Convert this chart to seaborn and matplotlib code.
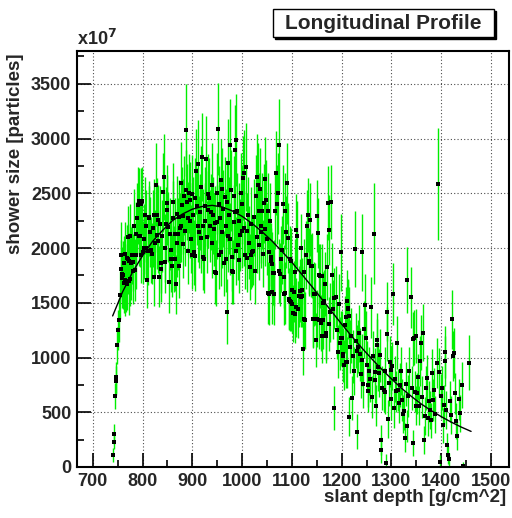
import numpy as np
import pandas as pd
import matplotlib
matplotlib.use("Agg")
import matplotlib.pyplot as plt
import seaborn as sns
from matplotlib.patches import FancyBboxPatch
from matplotlib.ticker import MultipleLocator

# slant depth [g/cm^2], shower size [x1e7 particles], error
depth = [
    741, 742, 743, 745, 746, 747, 749, 751, 752, 754,
    756, 757, 758, 759, 761, 762, 763, 764, 765, 766, 768, 769, 770, 771, 772, 773, 774, 775, 777, 778,
    780, 781, 783, 784, 786, 787, 789, 790, 792, 793, 795, 796, 797, 798, 800,
    802, 803, 805, 806, 808, 810, 811, 813, 814, 816, 818, 820, 821, 823, 824, 826, 827, 829, 830, 831,
    832, 834, 835, 837, 838, 840, 842, 843, 845, 846, 847, 849,
    850, 852, 853, 855, 857, 858, 859, 861, 862, 864, 865, 866, 867, 869, 870, 872, 873, 874, 876, 877,
    878, 879, 881, 882, 883, 885, 887, 888, 889, 891, 892, 893, 895, 896, 897, 899,
    900, 901, 903, 905, 906, 908, 909, 911, 912, 913, 915, 917, 918, 920, 921, 922, 924, 925, 926, 928,
    929, 931, 932, 934, 935, 937, 939, 940, 942, 943, 945, 946, 947, 949, 950,
    951, 953, 954, 955, 957, 958, 959, 960, 962, 963, 965, 967, 968, 969, 970, 971, 972, 974, 975, 976,
    977, 979, 980, 981, 983, 984, 985, 986, 987, 988, 989, 991, 993, 994, 996, 998, 999,
    1000, 1002, 1003, 1004, 1005, 1007, 1009, 1010, 1012, 1013, 1015, 1017, 1018, 1020, 1022, 1023, 1025,
    1027, 1029, 1030, 1032, 1033, 1034, 1036, 1038, 1039, 1041, 1043, 1044, 1046, 1047, 1048, 1050,
    1052, 1053, 1054, 1055, 1057, 1058, 1059, 1060, 1061, 1062, 1064, 1065, 1067, 1068, 1070, 1072, 1074,
    1075, 1077, 1079, 1081, 1083, 1084, 1085, 1086, 1087, 1089, 1090, 1092, 1094, 1095, 1096, 1097, 1098, 1099,
    1100, 1101, 1102, 1104, 1106, 1107, 1108, 1109, 1111, 1113, 1115, 1116, 1118, 1119, 1120, 1121, 1123,
    1124, 1125, 1126, 1128, 1130, 1133, 1134, 1135, 1136, 1138, 1140, 1142, 1143, 1144, 1147, 1148, 1150, 1151,
    1153, 1154, 1155, 1156, 1158, 1160, 1161, 1162, 1163, 1165, 1166, 1168, 1169, 1170, 1172, 1174, 1175,
    1176, 1179, 1181, 1182, 1184, 1185, 1188, 1190, 1193, 1195, 1196, 1198, 1199, 1201, 1202, 1203, 1204,
    1206, 1208, 1209, 1210, 1211, 1212, 1213, 1214, 1215, 1217, 1219, 1221, 1223, 1225, 1227, 1229, 1230,
    1231, 1233, 1235, 1236, 1238, 1240, 1241, 1243, 1245, 1247, 1248,
    1250, 1252, 1253, 1255, 1257, 1259, 1261, 1262, 1264, 1266, 1267, 1269, 1271, 1272, 1274, 1276, 1277,
    1279, 1280, 1282, 1285, 1287, 1288, 1290, 1291, 1292, 1293, 1295, 1297, 1299,
    1300, 1302, 1304, 1306, 1307, 1309, 1311, 1313, 1315, 1317, 1319, 1321, 1324, 1326, 1328, 1330, 1331,
    1332, 1334, 1336, 1339, 1341, 1343, 1344, 1346, 1347, 1349, 1350,
    1351, 1353, 1355, 1357, 1360, 1362, 1363, 1366, 1367, 1369, 1371, 1373, 1375, 1377, 1380, 1382, 1384,
    1386, 1388, 1391, 1393, 1396, 1397, 1399,
    1402, 1404, 1406, 1407, 1408, 1410, 1412, 1414, 1416, 1418, 1420, 1421, 1424, 1426, 1428, 1430, 1432,
    1435, 1438, 1441, 1444, 1456,
]
size = [
    110, 230, 300, 650, 790, 820, 1110, 1250, 1340, 1570,
    1810, 1940, 1760, 1730, 1750, 1860, 1680, 1710, 1950, 1680, 1910, 1670, 1900, 2100, 1880, 1700, 2110, 1720, 1860, 1940,
    1790, 1870, 2200, 1800, 1940, 2130, 2270, 2390, 2110, 2430, 2110, 2400, 1940, 2430, 1960,
    2080, 2000, 2300, 2000, 2200, 1710, 1970, 2270, 2280, 2150, 1980, 1950, 2180, 1740, 2300, 2050, 2580, 2120, 2300, 2060,
    2260, 1740, 2220, 1810, 1860, 2110, 2510, 2650, 2000, 1870, 2220, 2350,
    2410, 2190, 1690, 2130, 1900, 1980, 1840, 2420, 2270, 1900, 2130, 1900, 1670, 2310, 2050, 2130, 1840, 2280, 2180, 2200,
    2590, 2390, 2040, 2290, 2480, 2160, 2530, 3075, 2420, 2270, 1970, 2500, 2250, 2440, 2080, 2490,
    1940, 2300, 1960, 1930, 2460, 2700, 2380, 2200, 2770, 2150, 2330, 2560, 2090, 2830, 1920, 2200, 1900, 2250, 2380, 2810,
    2100, 2350, 2490, 2460, 2200, 2330, 2050, 2580, 2300, 2170, 2230, 1780, 1770, 2500, 2240,
    3090, 2400, 1940, 2270, 1960, 2620, 2150, 2540, 2360, 1860, 2470, 1900, 2200, 2420, 1420, 2110, 2780, 2300, 2940, 2080,
    2530, 1790, 1920, 1780, 2480, 2240, 2900, 2330, 2990, 1970, 2340, 2030, 1890, 2250, 2120, 2500, 2160,
    2400, 2640, 2690, 2180, 1940, 2740, 1910, 2160, 2300, 2050, 1830, 2220, 1940, 1960, 1970, 2280, 1790,
    2480, 2650, 2100, 2580, 2340, 2030, 2540, 2200, 2145, 2340, 1950, 2410, 2630, 2175, 2440, 2080,
    1590, 2340, 1580, 1960, 2250, 1880, 1920, 1600, 1850, 1770, 1770, 1580, 2340, 2685, 2400, 2500, 2943,
    1790, 1760, 1900, 1980, 2400, 1740, 1580, 1590, 2340, 2150, 2590, 2090, 1535, 1530, 1900, 1520, 1510, 1880,
    1620, 1490, 1405, 1600, 1785, 1395, 1460, 2165, 2110, 1440, 1560, 1610, 1555, 2000, 1620, 1560, 1080,
    1785, 1350, 1340, 1940, 2200, 2300, 1880, 1860, 2260, 1840, 1840, 1350, 1355, 1580, 1580, 1160, 2290, 1355,
    2140, 1750, 1340, 1746, 1315, 1745, 1200, 1500, 1340, 1520, 1670, 1200, 1228, 1830, 2410, 2165, 1305,
    1415, 2420, 1755, 1440, 542, 1540, 1555, 1250, 1054, 1490, 1130, 1960, 1175, 1176, 1015, 1030, 932,
    1300, 1374, 955, 1520, 955, 1450, 1440, 1380, 460, 1100, 1200, 628, 1010, 880, 1990, 1155, 1060,
    323, 1100, 1222, 1030, 850, 1960, 978, 760, 1258, 1481, 1175,
    932, 750, 690, 880, 800, 1460, 640, 1010, 2130, 793, 871, 560, 1115, 1161, 911, 860, 1020,
    155, 246, 720, 703, 688, 880, 39, 1216, 1420, 439, 770, 962, 885,
    620, 920, 1581, 536, 800, 690, 1136, 703, 580, 746, 880, 610, 484, 514, 268, 760, 375,
    1706, 650, 880, 1551, 720, 1170, 216, 1182, 688, 560, 1197,
    673, 820, 560, 970, 1136, 637, 1228, 247, 465, 720, 811, 443, 600, 520, 428, 862, 612,
    700, 480, 948, 2584, 870, 48, 650,
    725, 380, 566, 1051, 970, 520, 201, 109, 70, 600, 475, 1350, 1012, 1040, 673, 420, 286,
    617, 490, 750, 9, 953,
]
err = [
    60, 70, 90, 120, 130, 140, 170, 180, 200, 220,
    260, 300, 240, 280, 310, 250, 270, 330, 290, 260, 300, 240, 320, 280, 260, 310, 290, 250, 330, 270,
    300, 260, 340, 280, 310, 290, 320, 350, 270, 300, 280, 330, 260, 310, 290,
    320, 280, 350, 300, 330, 260, 310, 340, 290, 320, 300, 280, 350, 270, 330, 300, 380, 310, 340, 290,
    320, 280, 350, 300, 270, 330, 360, 390, 310, 280, 340, 320,
    350, 320, 280, 330, 300, 310, 290, 360, 340, 300, 330, 290, 270, 350, 310, 330, 300, 340, 320, 330,
    380, 350, 310, 340, 360, 320, 370, 420, 350, 330, 300, 360, 340, 350, 310, 360,
    310, 350, 300, 320, 360, 390, 350, 330, 400, 330, 350, 370, 320, 400, 300, 340, 310, 340, 360, 400,
    330, 350, 370, 360, 330, 350, 320, 380, 350, 330, 340, 290, 300, 370, 340,
    420, 350, 310, 340, 310, 380, 330, 370, 350, 300, 360, 300, 340, 360, 300, 330, 400, 350, 420, 330,
    370, 300, 310, 290, 360, 340, 410, 350, 420, 310, 350, 320, 300, 340, 330, 370, 340,
    360, 380, 390, 340, 310, 400, 310, 340, 350, 330, 300, 340, 310, 320, 310, 350, 300,
    370, 390, 330, 380, 350, 320, 370, 340, 330, 350, 310, 360, 380, 340, 360, 330,
    280, 350, 280, 310, 340, 300, 310, 290, 300, 290, 300, 280, 350, 380, 360, 370, 420,
    290, 290, 300, 310, 360, 290, 280, 280, 350, 330, 370, 320, 280, 270, 300, 280, 270, 300,
    290, 270, 260, 280, 300, 260, 270, 330, 320, 260, 280, 290, 280, 310, 290, 280, 240,
    300, 260, 260, 310, 330, 340, 300, 300, 330, 290, 300, 260, 260, 290, 280, 250, 330, 260,
    320, 290, 260, 290, 260, 290, 250, 280, 260, 280, 290, 250, 250, 300, 340, 320, 250,
    270, 340, 290, 270, 200, 280, 280, 260, 240, 270, 240, 350, 250, 250, 240, 240, 230,
    260, 270, 230, 280, 230, 270, 270, 260, 180, 240, 250, 200, 240, 220, 350, 250, 240,
    160, 240, 260, 240, 220, 350, 240, 220, 260, 280, 250,
    220, 200, 190, 220, 210, 280, 190, 230, 460, 210, 220, 190, 240, 250, 220, 220, 240,
    120, 140, 200, 200, 200, 220, 80, 250, 270, 170, 210, 230, 220,
    190, 220, 280, 180, 210, 190, 240, 190, 180, 200, 220, 190, 170, 180, 130, 200, 150,
    300, 190, 220, 280, 200, 250, 120, 250, 190, 180, 250,
    190, 210, 180, 230, 250, 190, 260, 130, 170, 200, 210, 160, 190, 170, 160, 220, 190,
    200, 170, 230, 510, 220, 60, 200,
    200, 160, 180, 240, 230, 170, 110, 80, 60, 190, 170, 270, 230, 230, 190, 160, 130,
    190, 170, 210, 40, 250,
]

# fitted profile
fit_depth = [740, 760, 780, 800, 820, 840, 860, 880, 900, 920, 940, 960, 980, 1000, 1020, 1040,
             1060, 1080, 1100, 1120, 1140, 1160, 1180, 1200, 1220, 1240, 1260, 1280, 1300, 1320,
             1340, 1360, 1380, 1400, 1420, 1440, 1460]
fit_size = [1380, 1600, 1780, 1930, 2060, 2160, 2250, 2310, 2355, 2380, 2390, 2375, 2340, 2290,
            2225, 2150, 2065, 1970, 1870, 1760, 1650, 1535, 1420, 1305, 1195, 1090, 990, 895, 805,
            720, 645, 575, 515, 460, 410, 365, 325]

df = pd.DataFrame({"depth": depth, "size": size, "err": err})
fit = pd.DataFrame({"depth": fit_depth, "size": fit_size})

sns.set_style("ticks")
plt.rcParams['font.family'] = ['Liberation Sans', 'DejaVu Sans']
plt.rcParams['font.weight'] = 'bold'

fig = plt.figure(figsize=(5.12, 5.18), dpi=100)
ax = fig.add_axes([0.150, 0.0985, 0.844, 0.803])

ax.vlines(df["depth"], df["size"] - df["err"], df["size"] + df["err"],
          colors="#00ee00", linewidth=1.0, zorder=2)
sns.scatterplot(data=df, x="depth", y="size", ax=ax, marker="s", s=9,
                color="black", edgecolor="black", linewidth=0, zorder=3)
sns.lineplot(data=fit, x="depth", y="size", ax=ax, color="black", linewidth=1.0,
             sort=False, zorder=4)

ax.set_xlim(668, 1536)
ax.set_ylim(0, 3800)
ax.xaxis.set_major_locator(MultipleLocator(100))
ax.xaxis.set_minor_locator(MultipleLocator(50))
ax.yaxis.set_major_locator(MultipleLocator(500))
ax.yaxis.set_minor_locator(MultipleLocator(250))
ax.tick_params(which="both", direction="in", top=False, right=False, width=1.2, color="black")
ax.tick_params(which="major", length=10, labelsize=13, pad=4)
ax.tick_params(which="minor", length=5)
ax.grid(True, which="major", linestyle=(0, (1, 2)), color="black", linewidth=0.8, alpha=0.7)
for lbl in ax.get_xticklabels() + ax.get_yticklabels():
    lbl.set_fontweight("bold")
for sp in ax.spines.values():
    sp.set_linewidth(1.5)
    sp.set_color("black")
ax.set_xlabel("")
ax.set_ylabel("")

fig.text(0.988, 0.024, "slant depth [g/cm^2]", ha="right", va="bottom",
         fontsize=13.5, fontweight="bold")
fig.text(0.014, 0.896, "shower size [particles]", ha="left", va="top",
         rotation=90, fontsize=13.5, fontweight="bold")
fig.text(0.150, 0.905, r"x10$^{\mathbf{7}}$", ha="left", va="bottom",
         fontsize=13, fontweight="bold")

# title box with shadow, ROOT style
shadow = FancyBboxPatch((0.538, 0.925), 0.43, 0.053, boxstyle="square,pad=0",
                        transform=fig.transFigure, facecolor="black", edgecolor="black")
box = FancyBboxPatch((0.534, 0.929), 0.43, 0.053, boxstyle="square,pad=0",
                     transform=fig.transFigure, facecolor="white", edgecolor="black", linewidth=1)
fig.patches.extend([shadow, box])
fig.text(0.749, 0.955, "Longitudinal Profile", ha="center", va="center",
         fontsize=15, fontweight="bold")

fig.savefig("out.png", dpi=100)
